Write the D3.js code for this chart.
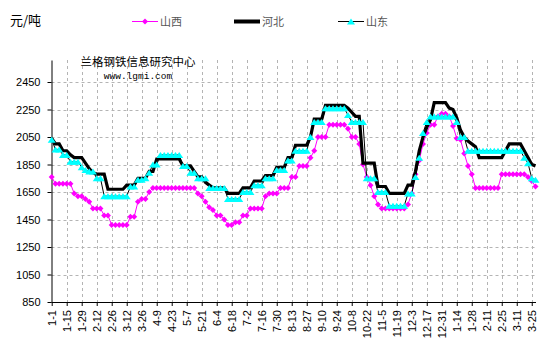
<!DOCTYPE html>
<html><head><meta charset="utf-8">
<script src="https://cdn.jsdelivr.net/npm/d3@7"></script>
<style>body{margin:0;background:#fff;} svg{display:block;}</style>
</head><body>
<svg id="chart" width="555" height="351"></svg>
<script>
const dateLabels = ['1-1','1-15','1-29','2-12','2-26','3-12','3-26','4-9','4-23','5-7','5-21','6-4','6-18','7-2','7-16','7-30','8-13','8-27','9-10','9-24','10-8','10-22','11-5','11-19','12-3','12-17','12-31','1-14','1-28','2-11','2-25','3-11','3-25'];
const yTicks = [850,1050,1250,1450,1650,1850,2050,2250,2450];
const seriesNames = ['山西','河北','山东'];

const shanxi = [1760,1710,1710,1710,1710,1710,1640,1620,1620,1600,
1580,1530,1530,1530,1480,1480,1410,1410,1410,1410,
1410,1470,1470,1580,1600,1600,1650,1680,1680,1680,
1680,1680,1680,1680,1680,1680,1680,1680,1680,1640,
1620,1580,1540,1520,1480,1480,1450,1410,1410,1430,
1430,1480,1480,1530,1530,1530,1530,1620,1640,1640,
1640,1680,1680,1680,1760,1760,1840,1840,1840,1900,
1950,2050,2050,2050,2140,2140,2140,2140,2140,2110,
2050,2050,2000,1850,1760,1700,1620,1560,1530,1530,
1530,1530,1530,1530,1530,1560,1640,1780,1880,2000,
2080,2140,2140,2200,2220,2220,2200,2130,2040,2030,
1930,1840,1780,1680,1680,1680,1680,1680,1680,1680,
1780,1780,1780,1780,1780,1780,1780,1760,1730,1690];

const hebei = [2040,2000,2000,1950,1950,1920,1900,1900,1900,1860,
1820,1790,1780,1780,1780,1670,1670,1670,1670,1670,
1700,1700,1700,1750,1750,1750,1800,1800,1890,1890,
1890,1890,1890,1890,1890,1840,1840,1840,1800,1760,
1760,1720,1700,1680,1680,1680,1680,1640,1640,1640,
1640,1680,1680,1680,1730,1730,1730,1770,1770,1770,
1830,1830,1830,1900,1900,1990,1990,1990,1990,2050,
2180,2180,2180,2280,2280,2280,2280,2280,2280,2260,
2230,2200,2200,1860,1860,1860,1860,1690,1690,1690,
1640,1640,1640,1640,1640,1700,1700,1800,1950,2050,
2120,2175,2300,2300,2300,2300,2260,2250,2190,2100,
2050,2020,2000,1980,1900,1900,1900,1900,1900,1900,
1900,1950,2000,2000,2000,2000,1950,1900,1850,1840];

const shandong = [2030,1960,1960,1920,1920,1870,1870,1870,1830,1810,
1800,1800,1750,1750,1620,1620,1620,1620,1620,1620,
1620,1690,1690,1740,1740,1750,1790,1850,1850,1920,
1920,1920,1920,1920,1920,1840,1840,1790,1790,1750,
1750,1750,1680,1680,1680,1680,1680,1600,1600,1600,
1600,1650,1650,1650,1700,1700,1700,1750,1750,1750,
1810,1810,1810,1880,1880,1950,1950,1950,1950,2050,
2160,2160,2160,2260,2260,2260,2260,2260,2260,2210,
2160,2160,2160,2160,1750,1750,1750,1650,1650,1650,
1550,1550,1550,1550,1550,1640,1640,1760,1900,2080,
2160,2200,2200,2200,2200,2200,2200,2200,2160,2050,
2050,1950,1950,1950,1950,1950,1950,1950,1950,1950,
1950,1950,1950,1950,1950,1950,1900,1860,1750,1740];

const svg = d3.select('#chart');
const L = 51.5, R = 536, T = 60, B = 302;
const x = d3.scaleLinear().domain([0, shanxi.length - 1]).range([51.7, 535.5]);
const y = d3.scaleLinear().domain([850, 2610]).range([B, T]);
const tickIdx = dateLabels.map((d, i) => i * 4);

// grid
const grid = svg.append('g').attr('stroke', '#b4b4b4').attr('stroke-dasharray', '3,3').attr('stroke-width', 1);
yTicks.slice(1).forEach(v => {
  grid.append('line').attr('x1', L).attr('x2', R).attr('y1', Math.round(y(v)) + 0.5).attr('y2', Math.round(y(v)) + 0.5);
});
tickIdx.slice(1).forEach(i => {
  grid.append('line').attr('x1', Math.round(x(i)) + 0.5).attr('x2', Math.round(x(i)) + 0.5).attr('y1', T).attr('y2', B);
});

// axes
const yAxis = svg.append('g').attr('transform', `translate(${L},0)`)
  .call(d3.axisLeft(y).tickValues(yTicks).tickSize(4).tickSizeOuter(0).tickPadding(7).tickFormat(d3.format('d')));
const xAxis = svg.append('g').attr('transform', `translate(0,${B})`)
  .call(d3.axisBottom(x).tickValues(tickIdx).tickSize(4).tickSizeOuter(0).tickFormat((d, i) => dateLabels[i]));
xAxis.select('.domain').attr('d', `M${L},0.5H${R}`);
[yAxis, xAxis].forEach(a => {
  a.selectAll('text').attr('font-family', '"Liberation Sans", Arial, sans-serif').attr('font-size', 11).attr('fill', '#000');
  a.selectAll('line').attr('stroke', '#000');
  a.select('.domain').attr('stroke', '#000');
});
xAxis.selectAll('text').attr('transform', 'rotate(-90)').attr('text-anchor', 'end')
  .attr('x', -8).attr('y', 0).attr('dy', '0.35em');

// series
const line = d3.line().x((d, i) => x(i)).y(d => y(d));
const diamond = 'M0,-3L3,0L0,3L-3,0Z';
const tri = 'M0,-3L4,3L-4,3Z';

svg.append('path').datum(shanxi).attr('d', line).attr('fill', 'none').attr('stroke', '#ff00ff').attr('stroke-width', 1);
svg.append('g').selectAll('path').data(shanxi).join('path')
  .attr('d', diamond).attr('fill', '#ff00ff').attr('transform', (d, i) => `translate(${x(i)},${y(d)})`);

svg.append('path').datum(hebei).attr('d', line).attr('fill', 'none').attr('stroke', '#000').attr('stroke-width', 3.2);

svg.append('path').datum(shandong).attr('d', line).attr('fill', 'none').attr('stroke', '#000').attr('stroke-width', 1);
svg.append('g').selectAll('path').data(shandong).join('path')
  .attr('d', tri).attr('fill', '#00ffff').attr('transform', (d, i) => `translate(${x(i)},${y(d)})`);

// titles
const cjk = '"Noto Sans CJK SC", sans-serif';
svg.append('text').attr('x', 10).attr('y', 25).attr('font-family', cjk).attr('font-size', 13).text('元/吨');
svg.append('text').attr('x', 138).attr('y', 66).attr('text-anchor', 'middle').attr('font-family', cjk).attr('font-size', 11.5).text('兰格钢铁信息研究中心');
svg.append('text').attr('x', 138).attr('y', 79).attr('text-anchor', 'middle').attr('font-family', '"Liberation Mono", "DejaVu Sans Mono", monospace').attr('font-size', 9.5).text('www.lgmi.com');

// legend
const lg = svg.append('g');
const legY = 21.5;
const legItems = [
  {name: seriesNames[0], x0: 132, color: '#ff00ff', w: 1, marker: diamond, mfill: '#ff00ff'},
  {name: seriesNames[1], x0: 234, color: '#000', w: 4, marker: null},
  {name: seriesNames[2], x0: 338, color: '#000', w: 1, marker: tri, mfill: '#00ffff'}
];
legItems.forEach(it => {
  lg.append('line').attr('x1', it.x0).attr('x2', it.x0 + 26).attr('y1', legY).attr('y2', legY).attr('stroke', it.color).attr('stroke-width', it.w);
  if (it.marker) lg.append('path').attr('d', it.marker).attr('fill', it.mfill).attr('transform', `translate(${it.x0 + 13},${legY})`);
  lg.append('text').attr('x', it.x0 + 28).attr('y', legY + 4).attr('font-family', cjk).attr('font-size', 11).attr('fill', '#555').text(it.name);
});
</script>
</body></html>
